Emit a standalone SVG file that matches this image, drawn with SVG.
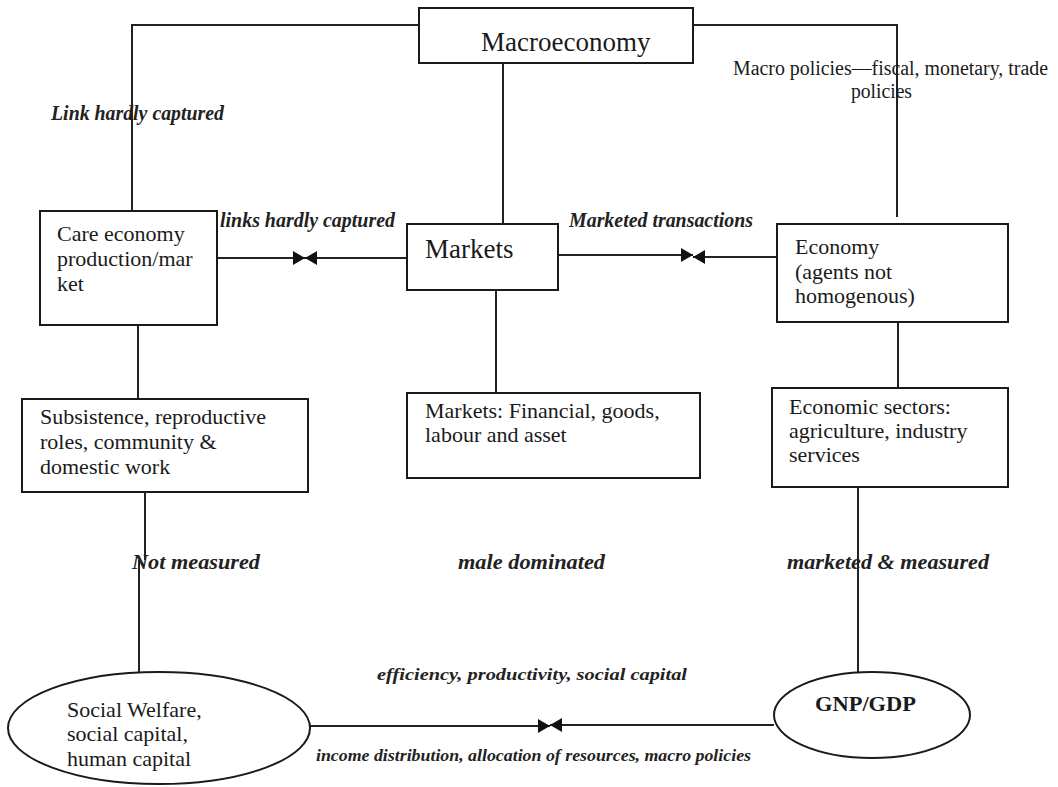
<svg xmlns="http://www.w3.org/2000/svg" width="1058" height="787" viewBox="0 0 1058 787">
  <style>
    .box { fill: #fff; stroke: #1a1a1a; stroke-width: 2; }
    .wire { fill: none; stroke: #222; stroke-width: 2; }
    .t { font-family: "Liberation Serif", "Times New Roman", serif; fill: #1a1a1a; font-size: 22px; }
    .big { font-size: 27px; }
    .lbl { font-family: "Liberation Serif", "Times New Roman", serif; font-style: italic; font-weight: bold; fill: #222; font-size: 20px; }
    .sm { font-size: 16px; }
    .note { font-family: "Liberation Serif", "Times New Roman", serif; fill: #1a1a1a; font-size: 20px; }
  </style>
  <defs>
    <marker id="head" viewBox="0 0 12 14" refX="12" refY="7" markerWidth="12" markerHeight="14" markerUnits="userSpaceOnUse" orient="auto">
      <path d="M0,0 L12,7 L0,14 z" fill="#111"/>
    </marker>
  </defs>

  <rect width="1058" height="787" fill="#fff"/>

  <!-- connectors -->
  <g id="connectors">
    <polyline class="wire" points="132,211 132,25 419,25"/>
    <polyline class="wire" points="693,25 897,25 897,217"/>
    <line class="wire" x1="503" y1="63" x2="503" y2="224"/>
    <line class="wire" x1="217" y1="258" x2="305" y2="258" marker-end="url(#head)"/>
    <line class="wire" x1="407" y1="258" x2="305" y2="258" marker-end="url(#head)"/>
    <line class="wire" x1="558" y1="255" x2="693" y2="255" marker-end="url(#head)"/>
    <line class="wire" x1="777" y1="257" x2="693" y2="257" marker-end="url(#head)"/>
    <line class="wire" x1="138" y1="325" x2="138" y2="399"/>
    <line class="wire" x1="496" y1="290" x2="496" y2="393"/>
    <line class="wire" x1="898" y1="317" x2="898" y2="392"/>
    <line class="wire" x1="145" y1="492" x2="145" y2="560"/>
    <line class="wire" x1="139" y1="560" x2="139" y2="673"/>
    <line class="wire" x1="858" y1="485" x2="858" y2="674"/>
    <line class="wire" x1="310" y1="726" x2="550" y2="726" marker-end="url(#head)"/>
    <line class="wire" x1="774" y1="725" x2="550" y2="725" marker-end="url(#head)"/>
  </g>

  <!-- connector labels -->
  <g id="labels">
    <text class="lbl" x="51" y="120" textLength="173" lengthAdjust="spacingAndGlyphs">Link hardly captured</text>
    <text class="lbl" x="220" y="227" textLength="175" lengthAdjust="spacingAndGlyphs">links hardly captured</text>
    <text class="lbl" x="569" y="227" textLength="184" lengthAdjust="spacingAndGlyphs">Marketed transactions</text>
    <text class="note" x="733" y="75" textLength="315" lengthAdjust="spacingAndGlyphs">Macro policies—fiscal, monetary, trade</text>
    <text class="note" x="851" y="98" textLength="61" lengthAdjust="spacingAndGlyphs">policies</text>
    <text class="lbl" x="132" y="569" textLength="128" lengthAdjust="spacingAndGlyphs">Not measured</text>
    <text class="lbl" x="458" y="569" textLength="147" lengthAdjust="spacingAndGlyphs">male dominated</text>
    <text class="lbl" x="787" y="569" textLength="202" lengthAdjust="spacingAndGlyphs">marketed &amp; measured</text>
    <text class="lbl sm" x="377" y="680" textLength="310" lengthAdjust="spacingAndGlyphs">efficiency, productivity, social capital</text>
    <text class="lbl sm" x="316" y="761" textLength="435" lengthAdjust="spacingAndGlyphs">income distribution, allocation of resources, macro policies</text>
  </g>

  <g id="macroeconomy">
    <rect class="box" x="419" y="8" width="274" height="55"/>
    <text class="t big" x="481" y="51">Macroeconomy</text>
  </g>

  <g id="care-economy">
    <rect class="box" x="40" y="211" width="177" height="114"/>
    <text class="t" x="57" y="241">Care economy</text>
    <text class="t" x="57" y="266">production/mar</text>
    <text class="t" x="57" y="291">ket</text>
  </g>

  <g id="markets">
    <rect class="box" x="407" y="224" width="151" height="66"/>
    <text class="t big" x="425" y="258">Markets</text>
  </g>

  <g id="economy">
    <rect class="box" x="777" y="224" width="231" height="98"/>
    <text class="t" x="795" y="254">Economy</text>
    <text class="t" x="795" y="279">(agents not</text>
    <text class="t" x="795" y="303">homogenous)</text>
  </g>

  <g id="subsistence">
    <rect class="box" x="22" y="399" width="286" height="93"/>
    <text class="t" x="40" y="424">Subsistence, reproductive</text>
    <text class="t" x="40" y="449">roles, community &amp;</text>
    <text class="t" x="40" y="474">domestic work</text>
  </g>

  <g id="market-types">
    <rect class="box" x="407" y="393" width="293" height="85"/>
    <text class="t" x="425" y="418">Markets: Financial, goods,</text>
    <text class="t" x="425" y="442">labour and asset</text>
  </g>

  <g id="economic-sectors">
    <rect class="box" x="772" y="388" width="236" height="99"/>
    <text class="t" x="789" y="414">Economic sectors:</text>
    <text class="t" x="789" y="438">agriculture, industry</text>
    <text class="t" x="789" y="462">services</text>
  </g>

  <g id="social-welfare">
    <ellipse class="box" cx="159" cy="728" rx="151" ry="56"/>
    <text class="t" x="67" y="717">Social Welfare,</text>
    <text class="t" x="67" y="741">social capital,</text>
    <text class="t" x="67" y="766">human capital</text>
  </g>

  <g id="gnp-gdp">
    <ellipse class="box" cx="872" cy="715" rx="98" ry="43"/>
    <text class="t" x="815" y="711" font-weight="bold" textLength="101" lengthAdjust="spacingAndGlyphs">GNP/GDP</text>
  </g>
</svg>
